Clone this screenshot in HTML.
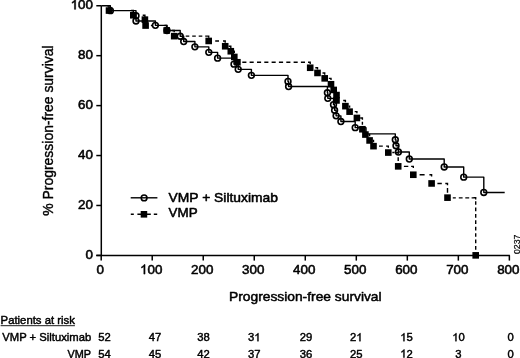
<!DOCTYPE html>
<html><head><meta charset="utf-8"><title>PFS</title>
<style>html,body{margin:0;padding:0;background:#fff;}body{width:520px;height:358px;overflow:hidden;position:relative;font-family:"Liberation Sans",sans-serif;}svg{filter:grayscale(1);}svg text{stroke:#000;stroke-width:0.55px;stroke-linejoin:round;}svg text.t{stroke-width:0.45px;}svg text.r{stroke-width:0.4px;}</style></head>
<body>
<svg width="520" height="358" viewBox="0 0 520 358" style="display:block;position:absolute;left:0;top:0" font-family="'Liberation Sans', sans-serif" fill="#000">
<rect x="0" y="0" width="520" height="358" fill="#fff"/>
<g stroke="#000" stroke-width="1.5" fill="none">
<path d="M101.3 5.75V255.4"/>
<path d="M96.3 255.4H509.9"/>
<path d="M96.3 5.75H101.3"/>
<path d="M96.3 55.68H101.3"/>
<path d="M96.3 105.61H101.3"/>
<path d="M96.3 155.54H101.3"/>
<path d="M96.3 205.47H101.3"/>
<path d="M96.3 255.40H101.3"/>
<path d="M101.20 255.4V260.6"/>
<path d="M152.22 255.4V260.6"/>
<path d="M203.24 255.4V260.6"/>
<path d="M254.26 255.4V260.6"/>
<path d="M305.28 255.4V260.6"/>
<path d="M356.30 255.4V260.6"/>
<path d="M407.32 255.4V260.6"/>
<path d="M458.34 255.4V260.6"/>
<path d="M509.36 255.4V260.6"/>
</g>
<path transform="translate(70.64 9.35) scale(0.00654 -0.00654)" d="M763 0H583V1147Q518 1085 412.5 1023T223 930V1104Q373 1175 485 1275T644 1469H763Z" fill="#000" stroke="#000" stroke-width="84.1" stroke-linejoin="round"/>
<text x="78.10" y="9.35" font-size="13.4" style="stroke-width:0.55px">00</text>
<text x="78.10" y="59.28" font-size="13.4" style="stroke-width:0.55px">80</text>
<text x="78.10" y="109.21" font-size="13.4" style="stroke-width:0.55px">60</text>
<text x="78.10" y="159.14" font-size="13.4" style="stroke-width:0.55px">40</text>
<text x="78.10" y="209.07" font-size="13.4" style="stroke-width:0.55px">20</text>
<text x="85.55" y="259.00" font-size="13.4" style="stroke-width:0.55px">0</text>
<text x="96.47" y="274.10" font-size="13.4" style="stroke-width:0.55px">0</text>
<path transform="translate(140.04 274.10) scale(0.00654 -0.00654)" d="M763 0H583V1147Q518 1085 412.5 1023T223 930V1104Q373 1175 485 1275T644 1469H763Z" fill="#000" stroke="#000" stroke-width="84.1" stroke-linejoin="round"/>
<text x="147.49" y="274.10" font-size="13.4" style="stroke-width:0.55px">00</text>
<text x="191.06" y="274.10" font-size="13.4" style="stroke-width:0.55px">200</text>
<text x="242.08" y="274.10" font-size="13.4" style="stroke-width:0.55px">300</text>
<text x="293.10" y="274.10" font-size="13.4" style="stroke-width:0.55px">400</text>
<text x="344.12" y="274.10" font-size="13.4" style="stroke-width:0.55px">500</text>
<text x="395.14" y="274.10" font-size="13.4" style="stroke-width:0.55px">600</text>
<text x="446.16" y="274.10" font-size="13.4" style="stroke-width:0.55px">700</text>
<text x="497.18" y="274.10" font-size="13.4" style="stroke-width:0.55px">800</text>
<text class="r" transform="translate(53.1 215.7) rotate(-90)" font-size="13.9" textLength="170.3" lengthAdjust="spacingAndGlyphs">% Progression-free survival</text>
<text x="229.0" y="301.2" font-size="13.4" style="stroke-width:0.5px" textLength="152.6" lengthAdjust="spacingAndGlyphs">Progression-free survival</text>
<g transform="translate(0 0.15)">
<path d="M101.3 5.60H110.4V10.5H136.0V20.8H155.4V25.2H167.0V30.3H180.2V36.1H183.7V41.4H194.9V46.7H208.8V52.2H217.6V58.0H234.0V64.0H238.2V69.2H251.4V75.2H288.0V81.3H288.6V86.4H327.4V92.6H327.8V98.2H333.5V104.5H334.6V110.1H336.1V115.7H340.9V121.4H355.2V127.5H366.0V133.7H395.3V139.6H396.0V145.6H398.4V151.9H409.3V158.9H444.2V166.8H463.7V177.0H483.8V192.3H504.7" fill="none" stroke="#000" stroke-width="1.4" stroke-linejoin="round"/>
<g fill="none" stroke="#000" stroke-width="1.6">
<circle cx="110.4" cy="10.5" r="2.9"/>
<circle cx="136.0" cy="15.6" r="2.9"/>
<circle cx="136.0" cy="20.8" r="2.9"/>
<circle cx="155.4" cy="25.2" r="2.9"/>
<circle cx="167.0" cy="30.3" r="2.9"/>
<circle cx="180.2" cy="36.1" r="2.9"/>
<circle cx="183.7" cy="41.4" r="2.9"/>
<circle cx="194.9" cy="46.7" r="2.9"/>
<circle cx="208.8" cy="52.2" r="2.9"/>
<circle cx="217.6" cy="58.0" r="2.9"/>
<circle cx="234.0" cy="64.0" r="2.9"/>
<circle cx="238.2" cy="69.2" r="2.9"/>
<circle cx="251.4" cy="75.2" r="2.9"/>
<circle cx="288.0" cy="81.3" r="2.9"/>
<circle cx="288.6" cy="86.4" r="2.9"/>
<circle cx="327.4" cy="92.6" r="2.9"/>
<circle cx="327.8" cy="98.2" r="2.9"/>
<circle cx="333.5" cy="104.5" r="2.9"/>
<circle cx="334.6" cy="110.1" r="2.9"/>
<circle cx="336.1" cy="115.7" r="2.9"/>
<circle cx="340.9" cy="121.4" r="2.9"/>
<circle cx="355.2" cy="127.5" r="2.9"/>
<circle cx="395.3" cy="139.6" r="2.9"/>
<circle cx="396.0" cy="145.6" r="2.9"/>
<circle cx="398.4" cy="151.9" r="2.9"/>
<circle cx="409.3" cy="158.9" r="2.9"/>
<circle cx="444.2" cy="166.8" r="2.9"/>
<circle cx="463.7" cy="177.0" r="2.9"/>
<circle cx="483.8" cy="192.3" r="2.9"/>
</g>
<path d="M106.8 5.75H109.0V7.5M131.1 10.4H133.3V12.1M142.7 15.1H144.9V16.8M164.5 25.4H166.7V27.1M172.0 30.3H174.2V32.0M206.5 36.0H208.7V37.7M223.0 40.8H225.2V42.5M228.6 46.1H230.8V47.8M234.1 51.1H234.3V52.8M308.0 62.1H310.2V63.8M315.3 67.6H317.5V69.3M322.5 72.8H324.7V74.5M328.8 78.2H331.0V79.9M343.2 100.3H345.4V102.0M348.7 106.0H349.6V107.7M354.7 111.5H356.9V113.2M360.2 117.8H362.4V119.5M368.7 134.4H369.6V136.1M372.9 140.3H373.5V142.0M386.1 146.0H388.3V147.7M396.0 152.4H398.2V154.1M411.1 166.2H413.3V167.9M429.4 174.6H431.6V176.3M445.3 183.3H447.5V185.0M473.5 197.5H475.7V199.2M150.9 25.4H152.6M185.7 36.0H189.3M192.2 36.0H195.8M198.7 36.0H202.3M205.2 36H208.7M215.2 40.8H219.0M242.3 62.1H246.4M249.6 62.1H253.7M257.0 62.1H261.1M264.3 62.1H268.4M271.6 62.1H275.7M278.9 62.1H283.1M286.3 62.1H290.4M293.6 62.1H297.7M300.9 62.1H305.0M362.4 121.6V124.6M379.0 146.0H382.8M392.3 152.4H394.6M398.2 157.2V160.8M403.9 166.2H408.3M419.6 174.6H424.6M437.4 183.3H441.8M447.5 187.8V192.7M452.8 197.7H455.8M458.8 197.7H462.6M465.3 197.7H469.2M471.6 197.7H475.7V199.4M475.7 201.0V204.7M475.7 207.4V211.1M475.7 213.8V217.5M475.7 220.2V223.9M475.7 226.6V230.3M475.7 233.0V236.7M475.7 239.4V243.1M475.7 245.8V249.5" fill="none" stroke="#000" stroke-width="1.4"/>
<g fill="#000">
<rect x="105.7" y="7.1" width="6.6" height="6.6"/>
<rect x="130.0" y="11.8" width="6.6" height="6.6"/>
<rect x="141.6" y="16.2" width="6.6" height="6.6"/>
<rect x="142.3" y="22.1" width="6.6" height="6.6"/>
<rect x="163.4" y="27.0" width="6.6" height="6.6"/>
<rect x="170.9" y="32.7" width="6.6" height="6.6"/>
<rect x="205.4" y="37.5" width="6.6" height="6.6"/>
<rect x="221.9" y="42.8" width="6.6" height="6.6"/>
<rect x="227.5" y="47.8" width="6.6" height="6.6"/>
<rect x="231.0" y="53.5" width="6.6" height="6.6"/>
<rect x="234.1" y="58.8" width="6.6" height="6.6"/>
<rect x="306.9" y="64.3" width="6.6" height="6.6"/>
<rect x="314.2" y="69.5" width="6.6" height="6.6"/>
<rect x="321.4" y="74.9" width="6.6" height="6.6"/>
<rect x="327.7" y="80.8" width="6.6" height="6.6"/>
<rect x="330.4" y="86.5" width="6.6" height="6.6"/>
<rect x="333.2" y="91.6" width="6.6" height="6.6"/>
<rect x="333.2" y="97.0" width="6.6" height="6.6"/>
<rect x="342.1" y="102.7" width="6.6" height="6.6"/>
<rect x="346.3" y="108.2" width="6.6" height="6.6"/>
<rect x="353.6" y="114.5" width="6.6" height="6.6"/>
<rect x="359.1" y="125.8" width="6.6" height="6.6"/>
<rect x="362.1" y="131.1" width="6.6" height="6.6"/>
<rect x="366.3" y="137.0" width="6.6" height="6.6"/>
<rect x="370.2" y="142.7" width="6.6" height="6.6"/>
<rect x="385.0" y="149.1" width="6.6" height="6.6"/>
<rect x="394.9" y="162.9" width="6.6" height="6.6"/>
<rect x="410.0" y="171.3" width="6.6" height="6.6"/>
<rect x="428.3" y="180.0" width="6.6" height="6.6"/>
<rect x="444.2" y="194.2" width="6.6" height="6.6"/>
<rect x="472.4" y="251.9" width="6.6" height="6.6"/>
</g>
</g>
<path d="M130.7 197.8H157.4" stroke="#000" stroke-width="1.4"/>
<circle cx="144.1" cy="197.9" r="2.85" fill="none" stroke="#000" stroke-width="1.6"/>
<path d="M130.8 214.3H133.8M137.4 214.3H150.8M153.8 214.3H157.2" stroke="#000" stroke-width="1.4"/>
<rect x="140.7" y="211.0" width="6.5" height="6.6"/>
<text x="168.6" y="201.5" font-size="13.4" textLength="109.4" lengthAdjust="spacingAndGlyphs">VMP + Siltuximab</text>
<text x="168.6" y="217.3" font-size="13.4">VMP</text>
<text style="stroke-width:0.2px" transform="translate(519.5 254.0) rotate(-90)" font-size="8.7">0237</text>
<text x="0.6" y="324.3" class="t" font-size="11.25" textLength="74.3" lengthAdjust="spacingAndGlyphs">Patients at risk</text>
<path d="M0.6 325.7H74.9" stroke="#000" stroke-width="0.9"/>
<text x="91.2" y="341.2" class="t" font-size="11.25" text-anchor="end">VMP + Siltuximab</text>
<text x="67.6" y="357.6" class="t" font-size="11.25" textLength="23.5" lengthAdjust="spacingAndGlyphs">VMP</text>
<text x="98.24" y="341.20" font-size="11.25" style="stroke-width:0.45px">52</text>
<text x="98.24" y="357.60" font-size="11.25" style="stroke-width:0.45px">54</text>
<text x="148.74" y="341.20" font-size="11.25" style="stroke-width:0.45px">47</text>
<text x="148.74" y="357.60" font-size="11.25" style="stroke-width:0.45px">45</text>
<text x="197.24" y="341.20" font-size="11.25" style="stroke-width:0.45px">38</text>
<text x="197.24" y="357.60" font-size="11.25" style="stroke-width:0.45px">42</text>
<text x="247.99" y="341.20" font-size="11.25" style="stroke-width:0.45px">3</text>
<path transform="translate(254.25 341.20) scale(0.00549 -0.00549)" d="M763 0H583V1147Q518 1085 412.5 1023T223 930V1104Q373 1175 485 1275T644 1469H763Z" fill="#000" stroke="#000" stroke-width="81.9" stroke-linejoin="round"/>
<text x="247.99" y="357.60" font-size="11.25" style="stroke-width:0.45px">37</text>
<text x="299.74" y="341.20" font-size="11.25" style="stroke-width:0.45px">29</text>
<text x="299.74" y="357.60" font-size="11.25" style="stroke-width:0.45px">36</text>
<text x="349.99" y="341.20" font-size="11.25" style="stroke-width:0.45px">2</text>
<path transform="translate(356.25 341.20) scale(0.00549 -0.00549)" d="M763 0H583V1147Q518 1085 412.5 1023T223 930V1104Q373 1175 485 1275T644 1469H763Z" fill="#000" stroke="#000" stroke-width="81.9" stroke-linejoin="round"/>
<text x="349.99" y="357.60" font-size="11.25" style="stroke-width:0.45px">25</text>
<path transform="translate(400.24 341.20) scale(0.00549 -0.00549)" d="M763 0H583V1147Q518 1085 412.5 1023T223 930V1104Q373 1175 485 1275T644 1469H763Z" fill="#000" stroke="#000" stroke-width="81.9" stroke-linejoin="round"/>
<text x="406.50" y="341.20" font-size="11.25" style="stroke-width:0.45px">5</text>
<path transform="translate(400.24 357.60) scale(0.00549 -0.00549)" d="M763 0H583V1147Q518 1085 412.5 1023T223 930V1104Q373 1175 485 1275T644 1469H763Z" fill="#000" stroke="#000" stroke-width="81.9" stroke-linejoin="round"/>
<text x="406.50" y="357.60" font-size="11.25" style="stroke-width:0.45px">2</text>
<path transform="translate(452.24 341.20) scale(0.00549 -0.00549)" d="M763 0H583V1147Q518 1085 412.5 1023T223 930V1104Q373 1175 485 1275T644 1469H763Z" fill="#000" stroke="#000" stroke-width="81.9" stroke-linejoin="round"/>
<text x="458.50" y="341.20" font-size="11.25" style="stroke-width:0.45px">0</text>
<text x="455.37" y="357.60" font-size="11.25" style="stroke-width:0.45px">3</text>
<text x="507.47" y="341.20" font-size="11.25" style="stroke-width:0.45px">0</text>
<text x="507.47" y="357.60" font-size="11.25" style="stroke-width:0.45px">0</text>
</svg>
</body></html>
